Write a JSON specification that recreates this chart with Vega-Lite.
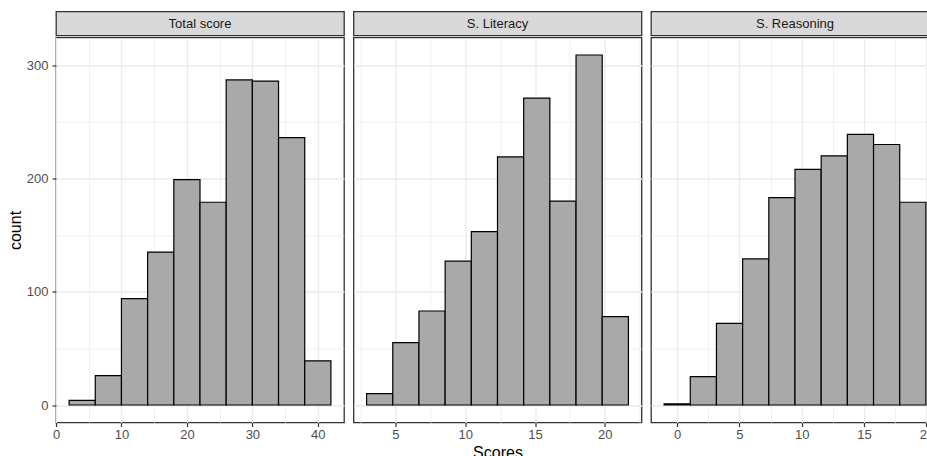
{
  "$schema": "https://vega.github.io/schema/vega-lite/v6.json",
  "padding": {"left": 6, "top": 10.5, "right": -12, "bottom": -4},
  "background": "#FFFFFF",
  "datasets": {
    "strips": [
      {"panel": "Total score"},
      {"panel": "S. Literacy"},
      {"panel": "S. Reasoning"}
    ],
    "bins": [
      {"panel": "Total score", "x0": 2, "x1": 6, "count": 4},
      {"panel": "Total score", "x0": 6, "x1": 10, "count": 26},
      {"panel": "Total score", "x0": 10, "x1": 14, "count": 94},
      {"panel": "Total score", "x0": 14, "x1": 18, "count": 135},
      {"panel": "Total score", "x0": 18, "x1": 22, "count": 199},
      {"panel": "Total score", "x0": 22, "x1": 26, "count": 179},
      {"panel": "Total score", "x0": 26, "x1": 30, "count": 287},
      {"panel": "Total score", "x0": 30, "x1": 34, "count": 286},
      {"panel": "Total score", "x0": 34, "x1": 38, "count": 236},
      {"panel": "Total score", "x0": 38, "x1": 42, "count": 39},
      {"panel": "S. Literacy", "x0": 2.93, "x1": 4.806, "count": 10},
      {"panel": "S. Literacy", "x0": 4.806, "x1": 6.682, "count": 55},
      {"panel": "S. Literacy", "x0": 6.682, "x1": 8.558, "count": 83},
      {"panel": "S. Literacy", "x0": 8.558, "x1": 10.434, "count": 127},
      {"panel": "S. Literacy", "x0": 10.434, "x1": 12.31, "count": 153},
      {"panel": "S. Literacy", "x0": 12.31, "x1": 14.186, "count": 219},
      {"panel": "S. Literacy", "x0": 14.186, "x1": 16.062, "count": 271},
      {"panel": "S. Literacy", "x0": 16.062, "x1": 17.938, "count": 180},
      {"panel": "S. Literacy", "x0": 17.938, "x1": 19.814, "count": 309},
      {"panel": "S. Literacy", "x0": 19.814, "x1": 21.69, "count": 78},
      {"panel": "S. Reasoning", "x0": -1.04, "x1": 1.06, "count": 1},
      {"panel": "S. Reasoning", "x0": 1.06, "x1": 3.16, "count": 25},
      {"panel": "S. Reasoning", "x0": 3.16, "x1": 5.26, "count": 72},
      {"panel": "S. Reasoning", "x0": 5.26, "x1": 7.36, "count": 129},
      {"panel": "S. Reasoning", "x0": 7.36, "x1": 9.46, "count": 183},
      {"panel": "S. Reasoning", "x0": 9.46, "x1": 11.56, "count": 208},
      {"panel": "S. Reasoning", "x0": 11.56, "x1": 13.66, "count": 220},
      {"panel": "S. Reasoning", "x0": 13.66, "x1": 15.76, "count": 239},
      {"panel": "S. Reasoning", "x0": 15.76, "x1": 17.86, "count": 230},
      {"panel": "S. Reasoning", "x0": 17.86, "x1": 19.96, "count": 179}
    ]
  },
  "spacing": 7.5,
  "hconcat": [
    {
      "spacing": 0,
      "vconcat": [
        {
          "data": {"name": "strips"},
          "transform": [{"filter": "datum.panel === 'Total score'"}],
          "width": 288,
          "height": 24,
          "view": {"fill": "#D9D9D9", "stroke": "#333333", "strokeWidth": 1.3},
          "mark": {"type": "text", "font": "Liberation Sans", "fontSize": 13, "color": "#1A1A1A"},
          "encoding": {"text": {"field": "panel"}}
        },
        {
          "data": {"name": "bins"},
          "transform": [{"filter": "datum.panel === 'Total score'"}],
          "width": 288,
          "height": 385,
          "mark": {"type": "rect", "fill": "#A9A9A9", "stroke": "#000000", "strokeWidth": 1.2},
          "encoding": {
            "x": {
              "field": "x0", "type": "quantitative",
              "scale": {"domain": [0, 44], "nice": false, "zero": false},
              "axis": {
                "title": null,
                "values": [0, 5, 10, 15, 20, 25, 30, 35, 40],
                "labelExpr": "datum.value % 10 === 0 ? datum.label : ''",
                "tickOpacity": {"condition": {"test": "datum.value % 10 !== 0", "value": 0}, "value": 1},
                "gridWidth": {"condition": {"test": "datum.value % 10 !== 0", "value": 0.7}, "value": 1.3}
              }
            },
            "x2": {"field": "x1"},
            "y": {
              "field": "count", "type": "quantitative",
              "scale": {"domain": [-15.45, 324.45], "nice": false, "zero": false},
              "axis": {
                "title": "count",
                "values": [0, 50, 100, 150, 200, 250, 300],
                "labelExpr": "datum.value % 100 === 0 ? datum.label : ''",
                "tickOpacity": {"condition": {"test": "datum.value % 100 !== 0", "value": 0}, "value": 1},
                "gridWidth": {"condition": {"test": "datum.value % 100 !== 0", "value": 0.7}, "value": 1.3}
              }
            },
            "y2": {"datum": 0}
          }
        }
      ]
    },
    {
      "spacing": 0,
      "vconcat": [
        {
          "data": {"name": "strips"},
          "transform": [{"filter": "datum.panel === 'S. Literacy'"}],
          "width": 288,
          "height": 24,
          "view": {"fill": "#D9D9D9", "stroke": "#333333", "strokeWidth": 1.3},
          "mark": {"type": "text", "font": "Liberation Sans", "fontSize": 13, "color": "#1A1A1A"},
          "encoding": {"text": {"field": "panel"}}
        },
        {
          "data": {"name": "bins"},
          "transform": [{"filter": "datum.panel === 'S. Literacy'"}],
          "width": 288,
          "height": 385,
          "mark": {"type": "rect", "fill": "#A9A9A9", "stroke": "#000000", "strokeWidth": 1.2},
          "encoding": {
            "x": {
              "field": "x0", "type": "quantitative",
              "scale": {"domain": [1.992, 22.628], "nice": false, "zero": false},
              "axis": {
                "title": "Scores",
                "values": [2.5, 5, 7.5, 10, 12.5, 15, 17.5, 20, 22.5],
                "labelExpr": "datum.value % 5 === 0 ? datum.label : ''",
                "tickOpacity": {"condition": {"test": "datum.value % 5 !== 0", "value": 0}, "value": 1},
                "gridWidth": {"condition": {"test": "datum.value % 5 !== 0", "value": 0.7}, "value": 1.3}
              }
            },
            "x2": {"field": "x1"},
            "y": {
              "field": "count", "type": "quantitative",
              "scale": {"domain": [-15.45, 324.45], "nice": false, "zero": false},
              "axis": {
                "title": null,
                "labels": false,
                "ticks": false,
                "values": [0, 50, 100, 150, 200, 250, 300],
                "gridWidth": {"condition": {"test": "datum.value % 100 !== 0", "value": 0.7}, "value": 1.3}
              }
            },
            "y2": {"datum": 0}
          }
        }
      ]
    },
    {
      "spacing": 0,
      "vconcat": [
        {
          "data": {"name": "strips"},
          "transform": [{"filter": "datum.panel === 'S. Reasoning'"}],
          "width": 288,
          "height": 24,
          "view": {"fill": "#D9D9D9", "stroke": "#333333", "strokeWidth": 1.3},
          "mark": {"type": "text", "font": "Liberation Sans", "fontSize": 13, "color": "#1A1A1A"},
          "encoding": {"text": {"field": "panel"}}
        },
        {
          "data": {"name": "bins"},
          "transform": [{"filter": "datum.panel === 'S. Reasoning'"}],
          "width": 288,
          "height": 385,
          "mark": {"type": "rect", "fill": "#A9A9A9", "stroke": "#000000", "strokeWidth": 1.2},
          "encoding": {
            "x": {
              "field": "x0", "type": "quantitative",
              "scale": {"domain": [-2.09, 21.01], "nice": false, "zero": false},
              "axis": {
                "title": null,
                "values": [0, 2.5, 5, 7.5, 10, 12.5, 15, 17.5, 20],
                "labelExpr": "datum.value % 5 === 0 ? datum.label : ''",
                "tickOpacity": {"condition": {"test": "datum.value % 5 !== 0", "value": 0}, "value": 1},
                "gridWidth": {"condition": {"test": "datum.value % 5 !== 0", "value": 0.7}, "value": 1.3}
              }
            },
            "x2": {"field": "x1"},
            "y": {
              "field": "count", "type": "quantitative",
              "scale": {"domain": [-15.45, 324.45], "nice": false, "zero": false},
              "axis": {
                "title": null,
                "labels": false,
                "ticks": false,
                "values": [0, 50, 100, 150, 200, 250, 300],
                "gridWidth": {"condition": {"test": "datum.value % 100 !== 0", "value": 0.7}, "value": 1.3}
              }
            },
            "y2": {"datum": 0}
          }
        }
      ]
    }
  ],
  "config": {
    "font": "Liberation Sans",
    "view": {"stroke": "#333333", "strokeWidth": 1.3},
    "axis": {
      "domain": false,
      "grid": true,
      "gridColor": "#EBEBEB",
      "tickColor": "#333333",
      "tickSize": 4,
      "tickWidth": 1.2,
      "labelFont": "Liberation Sans",
      "labelFontSize": 13,
      "labelColor": "#4D4D4D",
      "labelFlush": false,
      "labelOverlap": false,
      "titleFont": "Liberation Sans",
      "titleFontSize": 16,
      "titleFontWeight": "normal",
      "titleColor": "#000000"
    },
    "axisX": {"labelPadding": 2, "titlePadding": 3},
    "axisY": {"labelPadding": 4, "titlePadding": 3}
  }
}
